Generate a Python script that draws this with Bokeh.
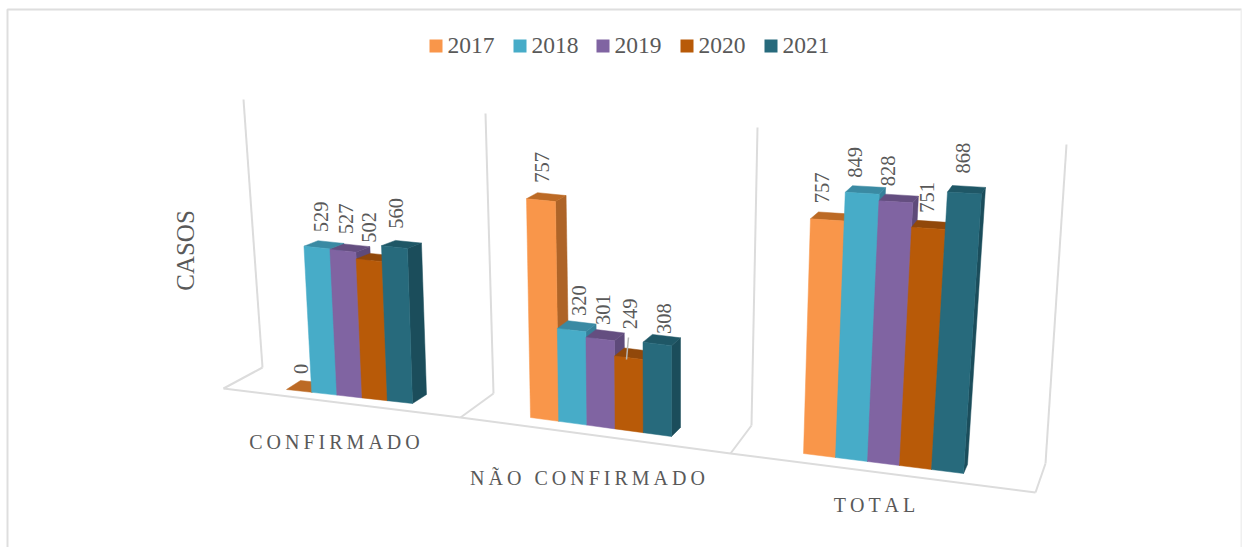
import math
from bokeh.plotting import figure
from bokeh.models import Range1d, ColumnDataSource
from bokeh.core.properties import value
from bokeh.embed import file_html
from bokeh.resources import INLINE

# ---- data ----
categories = ["CONFIRMADO", "NÃO CONFIRMADO", "TOTAL"]
years = ["2017", "2018", "2019", "2020", "2021"]
confirmado = [0, 529, 527, 502, 560]
nao_confirmado = [757, 320, 301, 249, 308]
total = [757, 849, 828, 751, 868]
series_by_category = [confirmado, nao_confirmado, total]
axis_title = "CASOS"

# ---- style ----
front_colors = ["#F9964A", "#47ACC8", "#8064A2", "#B85A08", "#276A7C"]
side_colors = ["#AE6428", "#36809A", "#5E4A7A", "#8A4406", "#1B4D5B"]
top_colors = ["#BC6A25", "#3A8AA3", "#644E80", "#91480A", "#1F5766"]
GRID = "#DCDCDC"
TEXT = "#595959"
SERIF = value("Liberation Serif")
THIN = "\u2009"

# ---- oblique projection of each panel, in page pixels ----
PANELS = [
    dict(x0=286, x5=412, y0=389, y5=403, ky0=.276, ky5=.277, kx0=-.016, kx5=-.009, dx0=14, dx5=14, dyt=-3.0),
    dict(x0=530, x5=671, y0=417, y5=436, ky0=.289, ky5=.295, kx0=-.0053, kx5=0.0, dx0=11, dx5=9, dyt=-5.5),
    dict(x0=803, x5=963, y0=453, y5=473, ky0=.310, ky5=.322, kx0=.0092, kx5=.0207, dx0=8, dx5=4, dyt=-6.5),
]
DYB = -9.0
VMAX = 900.0


def project(g, u, v, depth=0.0):
    t = u / 5.0
    lerp = lambda a, b: a + (b - a) * t
    x = lerp(g["x0"], g["x5"]) + lerp(g["kx0"], g["kx5"]) * v
    y = lerp(g["y0"], g["y5"]) - lerp(g["ky0"], g["ky5"]) * v
    x += depth * lerp(g["dx0"], g["dx5"])
    y += depth * (DYB + (g["dyt"] - DYB) * v / VMAX)
    return x, y


xs, ys, fills = [], [], []


def face(points, color):
    xs.append([q[0] for q in points])
    ys.append([q[1] for q in points])
    fills.append(color)


lab_x, lab_y, lab_t = [], [], []
NUDGE = [
    [(1.4, -22), (3.6, -30.7), (2.6, -32), (-0.6, -33), (2, -33.6)],
    [(1.5, -32.7), (7, -29.6), (2.3, -29.6), (0.7, -44), (7.2, -25.4)],
    [(-5, -32), (-7.7, -31), (-8.3, -31), (-1.9, -31), (-1, -35)],
]
for c, vals in enumerate(series_by_category):
    g = PANELS[c]
    for s, v in enumerate(vals):
        a, b = s, s + 1
        face([project(g, b, 0), project(g, b, 0, 1), project(g, b, v, 1), project(g, b, v)], side_colors[s])
        face([project(g, a, v), project(g, b, v), project(g, b, v, 1), project(g, a, v, 1)], top_colors[s])
        if v > 0:
            face([project(g, a, 0), project(g, b, 0), project(g, b, v), project(g, a, v)], front_colors[s])
        cx, cy = project(g, s + .5, v)
        lab_x.append(cx + NUDGE[c][s][0])
        lab_y.append(cy + NUDGE[c][s][1])
        lab_t.append(str(v))

p = figure(width=1242, height=547, output_backend="svg", toolbar_location=None,
           x_range=Range1d(0, 1242), y_range=Range1d(547, 0),
           x_axis_location=None, y_axis_location=None, min_border=0,
           outline_line_color=None, background_fill_color="white", border_fill_color="white")
p.grid.visible = False

# chart frame
p.multi_line([[7, 7, 1241], [1241, 1241]], [[547, 9, 9], [9, 547]],
             line_color=["#DEDEDE", "#F0F0F0"], line_width=2)

# walls and floor
wall_x = [[243, 262], [485, 493], [757, 751], [1066, 1045]]
wall_y = [[99, 367], [113, 393], [127, 425], [144, 463]]
floor_x = [[223, 262], [460, 493], [730, 751], [1035, 1045], [223, 460, 730, 1035]]
floor_y = [[388, 367], [417, 393], [453, 425], [492, 463], [388, 417, 453, 492]]
p.multi_line(wall_x + floor_x, wall_y + floor_y, line_color=GRID, line_width=2)

# bars
p.patches("xs", "ys", source=ColumnDataSource(dict(xs=xs, ys=ys, fill=fills)),
          fill_color="fill", line_color="fill", line_width=0.5)

# value labels and leader
p.line([628, 626], [337, 359], line_color="#B5B5B5", line_width=1.5)
p.text(lab_x, lab_y, text=lab_t, angle=math.pi / 2, text_align="center", text_baseline="middle",
       text_font=SERIF, text_font_size="20.5px", text_color=TEXT)

# category labels
spaced = [THIN.join(t) for t in categories]
p.text([334, 587, 874], [441, 477, 504], text=spaced, text_align="center", text_baseline="middle",
       text_font=SERIF, text_font_size="20px", text_color=TEXT)

# axis title
p.text([185], [250], text=[axis_title], angle=math.pi / 2, text_align="center", text_baseline="middle",
       text_font=SERIF, text_font_size="25px", text_color=TEXT)

# legend
leg_x = [429, 513, 596, 680, 764]
p.quad(left=leg_x, right=[x + 13 for x in leg_x], top=[39] * 5, bottom=[52] * 5,
       fill_color=front_colors, line_color=None)
p.text([x + 18 for x in leg_x], [44.5] * 5, text=years, text_align="left", text_baseline="middle",
       text_font=SERIF, text_font_size="23.5px", text_color=TEXT)

open("out.html", "w").write(file_html(p, INLINE))
